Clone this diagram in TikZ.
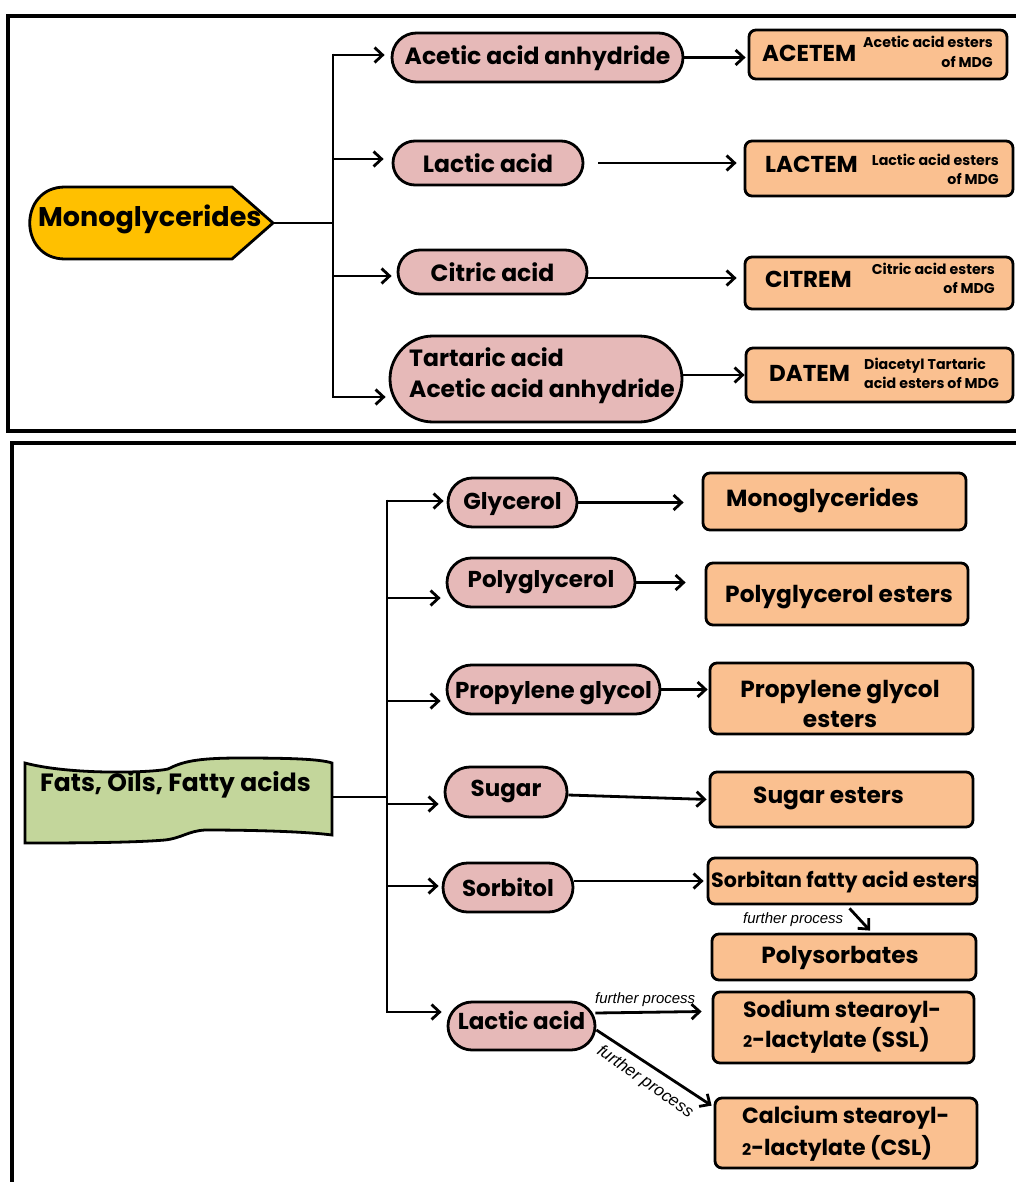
\documentclass[tikz,border=0pt]{standalone}
\usepackage{fontspec}
\setmainfont{Poppins}
\newfontfamily\arialf{Liberation Sans}
\usetikzlibrary{arrows.meta,shapes.misc,calc}
\definecolor{pinkc}{RGB}{230,185,184}
\definecolor{orangec}{RGB}{250,192,144}
\definecolor{greenc}{RGB}{195,214,155}
\definecolor{yellowc}{RGB}{255,192,0}
\newcommand{\fsz}[1]{\bfseries\fontsize{#1}{#1}\selectfont}
\begin{document}
\begin{tikzpicture}[x=1pt,y=-1pt,
  pk/.style={rounded rectangle, draw=black, line width=2.8pt, fill=pinkc, inner sep=0pt},
  ob/.style={rectangle, rounded corners=7pt, draw=black, line width=2.8pt, fill=orangec, inner sep=0pt},
  tx/.style={inner sep=0pt},
  ln/.style={line width=2.8pt},
  arr/.style={line width=2.8pt, -{Straight Barb[length=8pt,width=15pt]}},
  fp/.style={inner sep=0pt, font=\arialf\itshape\fontsize{15}{15}\selectfont},
  ptop/.style={font=\fsz{23.5}, text height=18.5pt, text depth=0pt},
  pbot/.style={font=\fsz{23}, text height=18pt, text depth=0pt},
  obt/.style={font=\fsz{23.3}},
  obs/.style={font=\fsz{22}},
  acr/.style={font=\fsz{23}},
  sml/.style={font=\bfseries\fontsize{14.2}{19.5}\selectfont}
]
\useasboundingbox (0,0) rectangle (1016,1182);
\fill[white] (0,0) rectangle (1016,1182);
% frames
\draw[line width=3.5pt] (8,16) rectangle (1040,431);
\draw[line width=3.5pt] (12,443) rectangle (1040,1210);

% ===== top section =====
\draw[ln, fill=yellowc] (232,187) -- (65,187) .. controls (18,187) and (18,259) .. (65,259) -- (232,259) -- (273,223) -- cycle;
\node[tx, anchor=base west, font=\fsz{27}] (mono) at (38,227) {Monoglycerides};
\coordinate (monotip) at (273,223);

\node[pk, ptop, text depth=5pt, minimum width=291pt, minimum height=49pt] (ta) at (537.5,57.5) {Acetic acid anhydride};
\node[pk, ptop, minimum width=190pt, minimum height=44pt] (tb) at (488,163) {Lactic acid};
\node[pk, ptop, minimum width=189pt, minimum height=44pt] (tc) at (492.5,272) {Citric acid};
\node[pk, minimum width=292pt, minimum height=86pt] (td) at (536,379) {};
\node[tx, align=left, anchor=west, font=\bfseries\fontsize{23.5}{31}\selectfont] (tdt) at (409,376) {Tartaric acid\\Acetic acid anhydride};

\node[ob, minimum width=258pt, minimum height=49pt] (acetem) at (878,54.5) {};
\node[ob, minimum width=268pt, minimum height=55pt] (lactem) at (879,168.5) {};
\node[ob, minimum width=268pt, minimum height=52pt] (citrem) at (879,283) {};
\node[ob, minimum width=267pt, minimum height=54pt] (datem) at (879.5,375) {};

\node[tx, acr, anchor=base west] (acetemT) at (762,62) {ACETEM};
\node[tx, sml, align=right, anchor=east] (acetemS) at (993,52) {Acetic acid esters\\of MDG};
\node[tx, acr, anchor=base west] (lactemT) at (765,173) {LACTEM};
\node[tx, sml, align=right, anchor=east] (lactemS) at (999,169.5) {Lactic acid esters\\of MDG};
\node[tx, acr, anchor=base west] (citremT) at (765,287) {CITREM};
\node[tx, sml, align=right, anchor=east] (citremS) at (995,278.5) {Citric acid esters\\of MDG};
\node[tx, acr, anchor=base west] (datemT) at (769,381) {DATEM};
\node[tx, sml, align=left, anchor=west] (datemS) at (864,373.5) {Diacetyl Tartaric\\acid esters of MDG};

\coordinate (ja) at (333,55);
\coordinate (jb) at (333,159);
\coordinate (jc) at (333,276);
\coordinate (jd) at (333,397);
\draw[ln] (monotip) -- (monotip -| ja);
\draw[ln] ([yshift=1.4pt]ja) -- ([yshift=-1.4pt]jd);
\draw[arr, shorten >=6pt] (ja) -- (ja -| ta.west);
\draw[arr, shorten >=8pt] (jb) -- (jb -| tb.west);
\draw[arr, shorten >=5pt] (jc) -- (jc -| tc.west);
\draw[arr, shorten >=3pt] (jd) -- (jd -| td.west);

\draw[arr, shorten >=2pt] (ta.east) -- (ta.east -| acetem.west);
\draw[arr, shorten <=14pt, shorten >=7pt] (tb.east) -- (tb.east -| lactem.west);
\draw[arr, shorten >=7pt] ($(tc.east)+(-1,6)$) -- ($(citrem.west)+(0,-5)$);
\draw[arr, shorten >=0pt] (datem.west -| td.east) -- (datem.west);

% ===== bottom section =====
\draw[ln, fill=greenc] (25,763) .. controls (70,775) and (150,773) .. (168,769)
  .. controls (182,762) and (195,758) .. (240,758) .. controls (290,758) and (320,759) .. (332,763)
  -- (332,835) .. controls (310,832) and (260,830) .. (205,830)
  .. controls (188,831) and (182,838) .. (165,840) .. controls (130,843) and (60,843) .. (25,843) -- cycle;
\node[tx, anchor=base west, font=\fsz{25}] (fats) at (40,791) {Fats, Oils, Fatty acids};
\coordinate (fatsR) at (332,797);

\node[pk, pbot, text depth=4pt, minimum width=129pt, minimum height=49pt] (gly) at (512.5,502.5) {Glycerol};
\node[pk, pbot, text depth=8pt, minimum width=188pt, minimum height=49pt] (polg) at (541,582.5) {Polyglycerol};
\node[pk, pbot, minimum width=213pt, minimum height=49pt] (prop) at (553.5,689.5) {Propylene glycol};
\node[pk, pbot, text depth=9pt, minimum width=122pt, minimum height=50pt] (sug) at (506,792) {Sugar};
\node[pk, pbot, minimum width=130pt, minimum height=49pt] (sorb) at (508,887.5) {Sorbitol};
\node[pk, pbot, text depth=11pt, minimum width=147pt, minimum height=48pt] (lac) at (521.5,1026) {Lactic acid};

\node[ob, minimum width=263pt, minimum height=57pt] (monoB) at (834.5,501.5) {};
\node[ob, minimum width=262pt, minimum height=62pt] (pgeB) at (837,594) {};
\node[ob, minimum width=263pt, minimum height=71pt] (pglyB) at (841.5,698.5) {};
\node[ob, minimum width=263pt, minimum height=55pt] (sugB) at (841.5,799.5) {};
\node[ob, minimum width=269pt, minimum height=46pt] (sorbB) at (842.5,881) {};
\node[ob, minimum width=264pt, minimum height=46pt] (polyB) at (844,957) {};
\node[ob, minimum width=261pt, minimum height=71pt] (sslB) at (843.5,1027.5) {};
\node[ob, minimum width=262pt, minimum height=70pt] (cslB) at (846,1133) {};

\node[tx, obt, anchor=base west] (monoBt) at (726,506) {Monoglycerides};
\node[tx, obt, anchor=base west] (pgeBt) at (725,602) {Polyglycerol esters};
\node[tx, obt, anchor=base] (pglyBt1) at (840,697) {Propylene glycol};
\node[tx, obt, anchor=base] (pglyBt2) at (840,727) {esters};
\node[tx, obt, anchor=base west] (sugBt) at (753,803) {Sugar esters};
\node[tx, font=\fsz{20.6}, anchor=base west] (sorbBt) at (711,887) {Sorbitan fatty acid esters};
\node[tx, obt, anchor=base] (polyBt) at (840,963) {Polysorbates};
\node[tx, obs, anchor=base west] (sslBt1) at (743,1017) {Sodium stearoyl-};
\node[tx, obs, anchor=base west] (sslBt2) at (743,1047) {{\fontsize{16}{16}\selectfont 2}-lactylate (SSL)};
\node[tx, obs, anchor=base west] (cslBt1) at (742,1123) {Calcium stearoyl-};
\node[tx, obs, anchor=base west] (cslBt2) at (742,1155) {{\fontsize{16}{16}\selectfont 2}-lactylate (CSL)};

\coordinate (ga) at (387,501);
\coordinate (gb) at (387,598);
\coordinate (gc) at (387,701);
\coordinate (gd) at (387,804);
\coordinate (ge) at (387,886);
\coordinate (gf) at (387,1012);
\draw[ln] (fatsR) -- (fatsR -| ga);
\draw[ln] ([yshift=1.4pt]ga) -- ([yshift=-1.4pt]gf);
\draw[arr, shorten >=3pt] (ga) -- (ga -| gly.west);
\draw[arr, shorten >=5pt] (gb) -- (gb -| polg.west);
\draw[arr, shorten >=5pt] (gc) -- (gc -| prop.west);
\draw[arr, shorten >=5pt] (gd) -- (gd -| sug.west);
\draw[arr, shorten >=3pt] (ge) -- (ge -| sorb.west);
\draw[arr, shorten >=5pt] (gf) -- (gf -| lac.west);

\draw[arr, shorten >=18pt] (gly.east) -- (gly.east -| monoB.west);
\draw[arr, shorten >=19pt] (polg.east) -- (polg.east -| pgeB.west);
\draw[arr, shorten >=1pt] (prop.east) -- (prop.east -| pglyB.west);
\draw[arr, shorten >=2pt] ($(sug.east)+(0,3)$) -- (sugB.west);
\draw[arr, shorten >=3pt] (sorbB.west -| sorb.east) -- (sorbB.west);
\draw[arr] ($(lac.east)+(-1,-13)$) -- ($(sslB.west)+(-10,-16)$);
\draw[arr] ($(lac.east)+(0,4)$) -- ($(cslB.north west)+(-2,9)$);
\draw[arr] ($(sorbB.south)+(7,3)$) -- ($(polyB.north)+(26,-2)$);

\node[fp, anchor=base west] (fp1) at (743,923) {further process};
\node[fp, anchor=base west] (fp2) at (595,1003) {further process};
\node[fp, font=\arialf\itshape\fontsize{17}{17}\selectfont, rotate=-35] (fp3) at (645,1082) {further process};
\end{tikzpicture}
\end{document}
